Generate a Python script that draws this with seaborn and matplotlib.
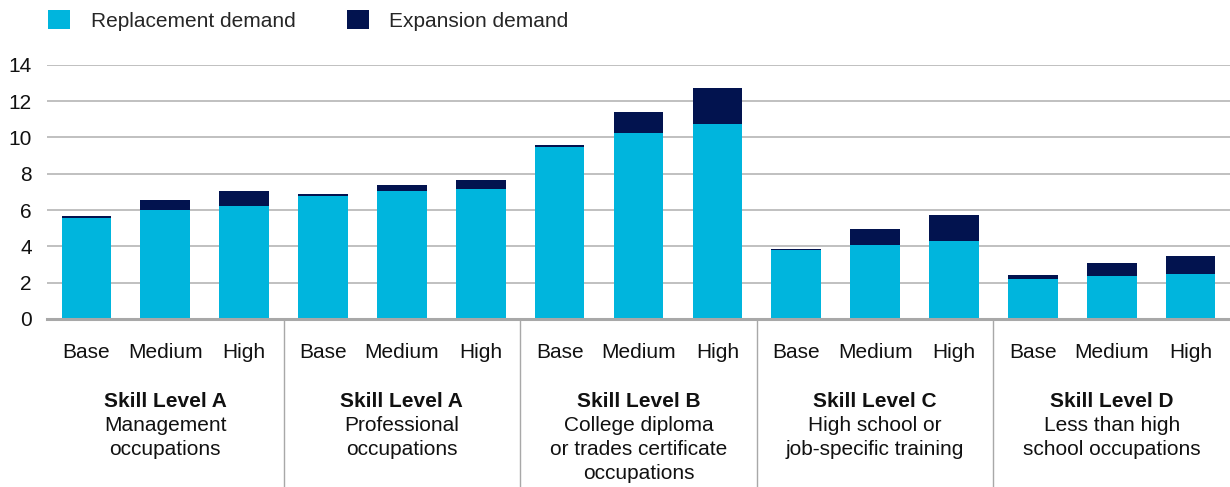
import matplotlib
matplotlib.use("Agg")
import matplotlib.pyplot as plt
import matplotlib.transforms as mtransforms
from matplotlib.patches import Patch
import seaborn as sns
import pandas as pd

scenarios = ["Base", "Medium", "High"] * 5
group_titles = ["Skill Level A", "Skill Level A", "Skill Level B", "Skill Level C", "Skill Level D"]
group_subtitles = [
    "Management\noccupations",
    "Professional\noccupations",
    "College diploma\nor trades certificate\noccupations",
    "High school or\njob-specific training",
    "Less than high\nschool occupations",
]
replacement = [5.58, 6.00, 6.24, 6.79, 7.05, 7.16, 9.49, 10.24, 10.73, 3.80, 4.07, 4.29, 2.20, 2.37, 2.48]
expansion = [0.11, 0.55, 0.81, 0.09, 0.33, 0.49, 0.09, 1.15, 1.99, 0.05, 0.88, 1.43, 0.22, 0.71, 0.99]
yticks = [0, 2, 4, 6, 8, 10, 12, 14]

C_REP = "#00B5DD"
C_EXP = "#02134F"
GRID = "#B5B5B5"
FS = 15

sns.set_style("white")
plt.rcParams["font.family"] = ["Liberation Sans", "DejaVu Sans"]

df = pd.DataFrame({
    "pos": list(range(len(scenarios))),
    "replacement": replacement,
    "total": [r + e for r, e in zip(replacement, expansion)],
})

fig = plt.figure(figsize=(12.3, 4.87), dpi=100)
ax = fig.add_axes([0.0382, 0.345, 0.9618, 0.522])

sns.barplot(data=df, x="pos", y="total", color=C_EXP, width=0.63, saturation=1, ax=ax, zorder=3)
sns.barplot(data=df, x="pos", y="replacement", color=C_REP, width=0.63, saturation=1, ax=ax, zorder=3)
for p in ax.patches:
    p.set_linewidth(0)

ax.set_xlim(-0.5, 14.5)
ax.set_ylim(0, 14)
ax.set_yticks(yticks)
ax.set_yticklabels([str(t) for t in yticks])
ax.set_xticks(range(len(scenarios)))
ax.set_xticklabels(scenarios)
ax.set_xlabel("")
ax.set_ylabel("")
ax.tick_params(axis="x", length=0, pad=17, labelsize=FS, colors="#111111")
ax.tick_params(axis="y", length=0, pad=11, labelsize=FS, colors="#111111")
ax.yaxis.grid(True, color=GRID, linewidth=1.2, zorder=0)
ax.set_axisbelow(True)
for s in ["left", "right", "top"]:
    ax.spines[s].set_visible(False)
ax.spines["bottom"].set_color("#A8A8A8")
ax.spines["bottom"].set_linewidth(2.2)
ax.spines["bottom"].set_zorder(4)

trans = mtransforms.blended_transform_factory(ax.transData, ax.transAxes)
for xs in [2.5, 5.5, 8.5, 11.5]:
    ax.plot([xs, xs], [0, -0.66], transform=trans, color="#A8A8A8", linewidth=1.0, clip_on=False)

for i, (t, sub) in enumerate(zip(group_titles, group_subtitles)):
    cx = 3 * i + 1
    ax.text(cx, -0.325, t, transform=trans, ha="center", va="center", fontsize=FS, fontweight="bold", color="#111111")
    ax.text(cx, -0.382, sub, transform=trans, ha="center", va="top", fontsize=FS, color="#111111", linespacing=1.33)

handles = [Patch(facecolor=C_REP, edgecolor="none", label="Replacement demand"),
           Patch(facecolor=C_EXP, edgecolor="none", label="Expansion demand")]
fig.legend(handles=handles, loc="upper left", bbox_to_anchor=(0.024, 1.018), ncol=2, frameon=False,
           fontsize=FS, handlelength=1.05, handleheight=1.05, handletextpad=1.0, columnspacing=2.45)

fig.savefig("out.png", dpi=100)
